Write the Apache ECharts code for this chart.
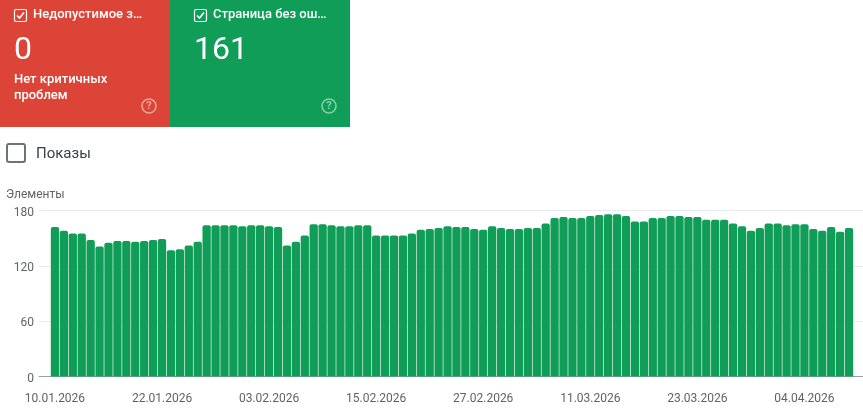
<!DOCTYPE html>
<html><head><meta charset="utf-8">
<style>html,body{margin:0;padding:0;background:#fff}#c{width:863px;height:412px}</style>
<script src="https://cdn.jsdelivr.net/npm/echarts@6/dist/echarts.min.js"></script>
</head><body><div id="c"></div>
<script>
const startDate = [2026, 0, 10];
const values = [162,158,155,155,148,141,145,147,147,146,147,148,149,137,138,142,146,164,164,164,164,163,164,164,163,162,142,146,
153,165,165,164,163,163,164,164,153,153,153,153,155,159,160,161,163,162,162,160,159,163,161,160,160,161,161,166,172,173,172,172,
174,175,176,176,174,168,168,172,172,174,174,173,173,170,170,170,166,163,158,161,166,166,164,165,165,160,158,162,157,161];
const yTicks = [0,60,120,180];
const yTitle = 'Элементы';
const cardTitles = ['Недопустимое з…','Страница без ош…'];
const cardValues = ['0','161'];
const cardNotes = ['Нет критичных','проблем'];
const toggleLabel = 'Показы';

function pad(n){return String(n).padStart(2,'0');}
const categories = values.map((_,i)=>{
  const d = new Date(startDate[0],startDate[1],startDate[2]+i);
  return pad(d.getDate())+'.'+pad(d.getMonth()+1)+'.'+d.getFullYear();
});
const font = 'Roboto';
function card(x,w,inset,color,title,value,note){
  const l = x+inset, r = x+w-21;
  const els = [
    {type:'rect',shape:{x:x,y:0,width:w,height:127},style:{fill:color}},
    {type:'rect',shape:{x:l+0.5,y:9.5,width:12,height:12,r:1.5},style:{fill:'none',stroke:'#fff',lineWidth:1.2}},
    {type:'polyline',shape:{points:[[l+3,15.5],[l+5.5,18],[l+10,12.5]]},style:{fill:'none',stroke:'#fff',lineWidth:1.6}},
    {type:'text',x:l+19,y:15,style:{text:title,fill:'#fff',font:'500 13px '+font,textVerticalAlign:'middle'}},
    {type:'text',x:l,y:51,style:{text:value,fill:'#fff',font:'400 32px '+font,textVerticalAlign:'middle'}},
    {type:'circle',shape:{cx:r,cy:106,r:7},style:{fill:'none',stroke:'rgba(255,255,255,0.5)',lineWidth:1.6}},
    {type:'text',x:r,y:106.5,style:{text:'?',fill:'rgba(255,255,255,0.5)',font:'700 11px '+font,textAlign:'center',textVerticalAlign:'middle'}}
  ];
  note.forEach((t,i)=>els.push({type:'text',x:l,y:79.5+i*16,style:{text:t,fill:'#fff',font:'500 13px '+font,textVerticalAlign:'middle'}}));
  return els;
}
const graphics = [
  ...card(0,170,14,'#db4437',cardTitles[0],cardValues[0],cardNotes),
  ...card(170,180,24,'#0f9d58',cardTitles[1],cardValues[1],[]),
  {type:'rect',shape:{x:7,y:144,width:18,height:18,r:2},style:{fill:'#fff',stroke:'#6f7377',lineWidth:2}},
  {type:'text',x:36,y:154,style:{text:toggleLabel,fill:'#3c4043',font:'400 15px '+font,textVerticalAlign:'middle'}}
];
const chart = echarts.init(document.getElementById('c'),null,{renderer:'canvas'});
chart.setOption({
  animation:false,
  textStyle:{fontFamily:font},
  graphic:{elements:graphics},
  title:{text:yTitle,left:1,top:184,textStyle:{fontSize:12,fontWeight:400,color:'#5f6368',fontFamily:font}},
  grid:[
    {left:50.5,top:210.5,width:803,height:166},
    {left:39,top:210.5,right:0,height:166}
  ],
  xAxis:[
    {type:'category',gridIndex:0,data:categories,boundaryGap:true,
     axisLine:{show:false},axisTick:{show:false},splitLine:{show:false},
     axisLabel:{interval:11,color:'#5f6368',fontSize:12,fontFamily:font,margin:16,hideOverlap:false}},
    {type:'value',gridIndex:1,min:0,max:1,axisLabel:{show:false},axisTick:{show:false},splitLine:{show:false},
     axisLine:{show:true,onZero:false,lineStyle:{color:'#9aa0a6',width:1}}}
  ],
  yAxis:[
    {type:'value',gridIndex:0,min:0,max:180,interval:60,axisLabel:{show:false},axisLine:{show:false},axisTick:{show:false},splitLine:{show:false}},
    {type:'value',gridIndex:1,min:0,max:180,interval:60,axisLine:{show:false},axisTick:{show:false},
     axisLabel:{color:'#5f6368',fontSize:12,fontFamily:font,margin:5,verticalAlign:'top',lineHeight:4,customValues:yTicks},
     splitLine:{show:true,lineStyle:{color:'#e8eaed',width:1}}}
  ],
  series:[{type:'bar',xAxisIndex:0,yAxisIndex:0,data:values,barWidth:8.3,z:5,
    itemStyle:{color:'#0f9d58',borderRadius:[2,2,0,0]}}]
});
</script></body></html>
